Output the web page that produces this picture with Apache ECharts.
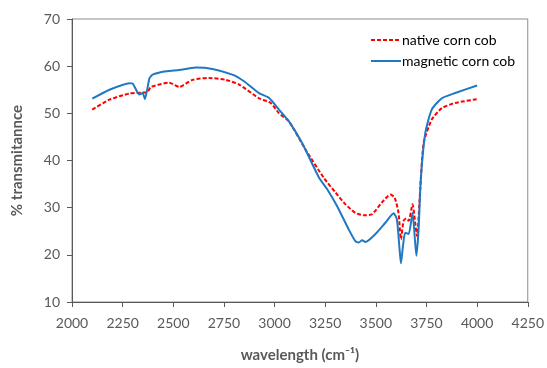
<!DOCTYPE html>
<html style="height: 100%">
<head>
    <meta charset="utf-8">
    <script src="https://cdn.jsdelivr.net/npm/echarts@6.0.0/dist/echarts.min.js"></script>
</head>
<body style="height: 100%; margin: 0; background: #fff">
    <div id="container" style="width: 547px; height: 368px"></div>
    <script type="text/javascript">
        var myChart = echarts.init(document.getElementById('container'));

        const nativeColor = '#ff0000', magColor = '#1f78c1', txtColor = '#595959';

        // native corn cob
        var natX = [2100, 2185, 2283, 2349, 2372, 2390, 2480, 2529, 2595, 2677, 2759, 2825, 2923, 2981, 3022, 3071, 3153, 3245, 3301, 3350, 3399, 3440, 3481, 3530, 3572, 3593, 3612, 3624, 3637, 3650, 3662, 3681, 3703, 3719, 3736, 3776, 3826, 3892, 4000];
        var natY = [50.8, 52.9, 54.2, 54.4, 54.5, 55.6, 56.5, 55.6, 57.1, 57.5, 57.1, 56.1, 53.2, 52.2, 50.0, 48.3, 42.3, 36.2, 33.2, 30.7, 28.9, 28.4, 28.6, 31.1, 32.8, 32.1, 28.9, 23.3, 27.2, 27.7, 27.2, 30.7, 24.0, 33.9, 43.7, 48.7, 51.1, 52.2, 53.0];

        // magnetic corn cob
        var magX = [2100, 2185, 2283, 2300, 2332, 2349, 2360, 2382, 2398, 2464, 2529, 2611, 2693, 2792, 2849, 2923, 2972, 3022, 3071, 3136, 3219, 3260, 3309, 3366, 3399, 3416, 3432, 3449, 3498, 3547, 3588, 3604, 3617, 3624, 3634, 3645, 3662, 3681, 3700, 3711, 3722, 3744, 3776, 3826, 3892, 4000];
        var magY = [53.1, 55.0, 56.4, 56.3, 54.0, 54.3, 53.0, 57.4, 58.2, 58.9, 59.2, 59.7, 59.4, 58.2, 56.8, 54.3, 53.3, 50.8, 48.3, 43.7, 36.4, 33.9, 30.3, 25.4, 22.9, 22.6, 23.1, 22.7, 24.4, 26.8, 28.8, 27.5, 21.2, 18.2, 21.9, 24.7, 24.4, 28.9, 19.8, 25.4, 36.0, 45.8, 50.8, 53.2, 54.3, 55.9];

        function pairs(xs, ys) {
            return xs.map(function (x, i) { return [x, ys[i]]; });
        }

        var axisLabelStyle = { color: txtColor, fontSize: 14, fontFamily: 'Lato' };

        option = {
            animation: false,
            backgroundColor: '#fff',
            grid: {
                left: 72, right: 18, top: 19, bottom: 65,
                show: true, borderColor: '#8c8c8c', borderWidth: 1
            },
            legend: {
                orient: 'vertical',
                left: 365, top: 28,
                itemWidth: 30, itemHeight: 10, itemGap: 7,
                itemStyle: { opacity: 0 },
                textStyle: { color: '#000', fontSize: 14, fontFamily: 'Lato', padding: [0, 0, 0, -4] },
                data: ['native corn cob', 'magnetic corn cob']
            },
            xAxis: {
                type: 'value',
                min: 2000, max: 4250, interval: 250,
                name: 'wavelength (cm⁻¹)',
                nameLocation: 'middle', nameGap: 46,
                nameTextStyle: { color: txtColor, fontSize: 15, fontWeight: 'bold', fontFamily: 'Lato' },
                axisLine: { lineStyle: { color: txtColor, width: 1 } },
                axisTick: { show: true, inside: false, length: 5, lineStyle: { color: txtColor } },
                axisLabel: Object.assign({ margin: 14, formatter: function (v) { return String(v); } }, axisLabelStyle),
                splitLine: { show: false }
            },
            yAxis: {
                type: 'value',
                min: 10, max: 70, interval: 10,
                name: '% transmitannce',
                nameLocation: 'middle', nameGap: 47,
                nameTextStyle: { color: txtColor, fontSize: 15, fontWeight: 'bold', fontFamily: 'Lato' },
                axisLine: { show: true, lineStyle: { color: txtColor, width: 1 } },
                axisTick: { show: true, inside: false, length: 5, lineStyle: { color: txtColor } },
                axisLabel: Object.assign({ margin: 12 }, axisLabelStyle),
                splitLine: { show: false }
            },
            series: [
                {
                    name: 'native corn cob', type: 'line',
                    symbol: 'none', smooth: 0.2,
                    itemStyle: { color: nativeColor },
                    lineStyle: { color: nativeColor, width: 2, type: [4, 2] },
                    data: pairs(natX, natY)
                },
                {
                    name: 'magnetic corn cob', type: 'line',
                    symbol: 'none', smooth: 0.2,
                    itemStyle: { color: magColor },
                    lineStyle: { color: magColor, width: 2 },
                    data: pairs(magX, magY)
                }
            ]
        };

        myChart.setOption(option);
    </script>
</body>
</html>
